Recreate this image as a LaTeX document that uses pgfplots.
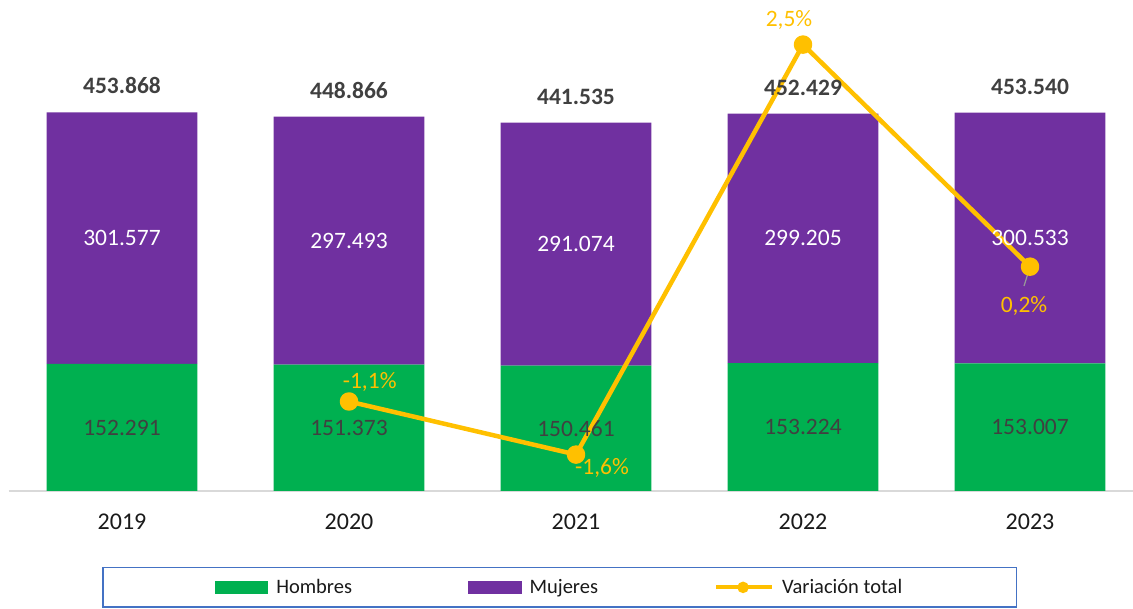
\documentclass[border=0pt]{standalone}
\usepackage{pgfplots}
\pgfplotsset{compat=1.18}
\usepackage{fontspec}
\setmainfont{Carlito}
\definecolor{hgreen}{HTML}{00B050}
\definecolor{mpurple}{HTML}{7030A0}
\definecolor{vgold}{HTML}{FFC000}
\definecolor{lblgray}{HTML}{404040}
\definecolor{axgray}{HTML}{D9D9D9}
\definecolor{legblue}{HTML}{4472C4}
\definecolor{ticktext}{HTML}{1A1A1A}
\newcommand\lbl{\fontsize{23.5}{28}\selectfont}
\pgfplotsset{base/.style={scale only axis, width=1124.5pt, height=491pt,
  at={(8.5pt,118pt)}, anchor=south west, xmin=-0.5, xmax=4.4537,
  enlargelimits=false, clip=false}}
\begin{document}
\begin{tikzpicture}
\useasboundingbox (0,0) rectangle (1133pt,609pt);
% bars
\begin{axis}[base, ybar stacked, bar width=150.7pt, ymin=0, ymax=588700,
  axis x line=bottom, axis y line=none,
  axis line style={-, draw=axgray, line width=1.7pt},
  xtick={0,1,2,3,4}, xticklabels={2019,2020,2021,2022,2023},
  major tick length=0pt, ytick=\empty,
  xticklabel style={anchor=base, yshift=-39pt, font=\fontsize{24}{28}\selectfont, text=ticktext}]
\addplot[fill=hgreen, draw=none] coordinates {(0,152291) (1,151373) (2,150461) (3,153224) (4,153007)};
\addplot[fill=mpurple, draw=none] coordinates {(0,301577) (1,297493) (2,291074) (3,299205) (4,300533)};
\end{axis}
% line (secondary axis)
\begin{axis}[base, ymin=-1.997, ymax=2.913, hide axis]
\addplot[vgold, line width=4.5pt, line join=round, mark=*, mark size=7pt,
  mark options={draw=none, fill=vgold},
  nodes near coords, point meta=explicit symbolic,
  visualization depends on={value \thisrow{dx}\as\dx},
  visualization depends on={value \thisrow{dy}\as\dy},
  every node near coord/.append style={anchor=base, xshift=\dx pt, yshift=\dy pt, text=vgold, font=\lbl}]
table[x=x, y=y, meta=lab] {
x y dx dy lab
1 -1.102 20.7 13.4 -1,1\%
2 -1.633 26 -20 -1,6\%
3 2.467 -14 18.3 2,5\%
4 0.246 -6 -46 0,2\%
};
\draw[gray!80, line width=1.2pt] (axis cs:4,0.246) ++(-0.7pt,-2.3pt) -- ++(-5.3pt,-17pt);
\end{axis}
% labels + legend
\begin{axis}[base, ymin=0, ymax=588700, hide axis,
  legend columns=3, legend cell align=left,
  legend style={at={(axis description cs:0,0)}, anchor=south west,
    xshift=93.5pt, yshift=-117pt, draw=legblue, line width=1.5pt,
    inner xsep=112pt, inner ysep=10pt,
    font=\fontsize{20.5}{25}\selectfont, text=ticktext,
    /tikz/every odd column/.append style={column sep=6pt},
    /tikz/every even column/.append style={column sep=114pt}}]
\addplot[draw=none, forget plot, nodes near coords, point meta=explicit symbolic,
  every node near coord/.append style={anchor=center, text=lblgray, font=\lbl}]
table[meta=lab] {
x y lab
0 76145.5 152.291
1 75686.5 151.373
2 75230.5 150.461
3 76612 153.224
4 76503.5 153.007
};
\addplot[draw=none, forget plot, nodes near coords, point meta=explicit symbolic,
  every node near coord/.append style={anchor=center, text=white, font=\lbl}]
table[meta=lab] {
x y lab
0 303079.5 301.577
1 300119.5 297.493
2 295998 291.074
3 302826.5 299.205
4 303273.5 300.533
};
\addplot[draw=none, forget plot, nodes near coords, point meta=explicit symbolic,
  every node near coord/.append style={anchor=base, yshift=18.5pt, text=lblgray, font=\lbl\bfseries}]
table[meta=lab] {
x y lab
0 453868 453.868
1 448866 448.866
2 441535 441.535
3 452429 452.429
4 453540 453.540
};
\addlegendimage{legend image code/.code={\fill[hgreen] (0pt,-5.5pt) rectangle (52pt,5.5pt);}}
\addlegendentry{Hombres}
\addlegendimage{legend image code/.code={\fill[mpurple] (0pt,-5.5pt) rectangle (52pt,5.5pt);}}
\addlegendentry{Mujeres}
\addlegendimage{legend image code/.code={\draw[vgold, line width=4pt] (0pt,0pt) -- (56pt,0pt); \fill[vgold] (27pt,0pt) circle (5pt);}}
\addlegendentry{Variación total}
\end{axis}
\end{tikzpicture}
\end{document}
